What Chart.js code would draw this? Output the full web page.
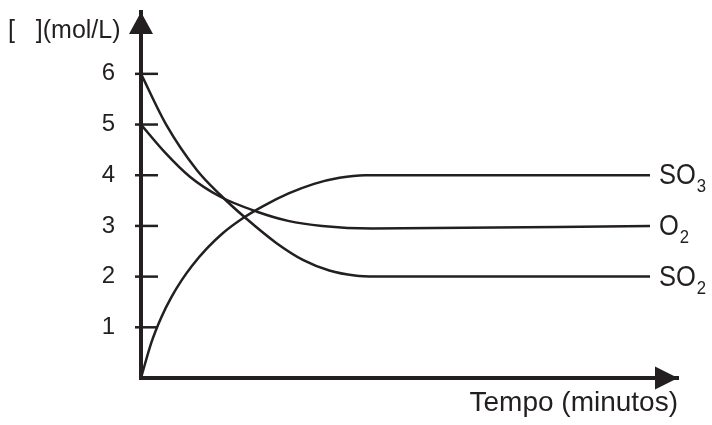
<!DOCTYPE html>
<html>
<head>
<meta charset="utf-8">
<script src="https://cdn.jsdelivr.net/npm/chart.js@4.4.0/dist/chart.umd.min.js"></script>
<style>
  html, body { margin: 0; padding: 0; background: #fff; }
  #wrap { width: 712px; height: 425px; }
</style>
</head>
<body>
<div id="wrap"><canvas id="chart" width="712" height="425"></canvas></div>
<script>
const INK = '#231f20';
const FONT = "'Liberation Sans', Arial, Helvetica, sans-serif";

// time runs 0..10 up to the end of the curves, concentrations in mol/L
const so3Time = [0, 0.2, 0.4, 0.6, 0.8, 1.0, 1.3, 1.6, 2.0, 2.4, 2.9, 3.4, 3.9, 4.4, 10];
const so3Conc = [0, 0.69, 1.2, 1.6, 1.93, 2.21, 2.56, 2.85, 3.15, 3.39, 3.64, 3.83, 3.95, 4.0, 4.0];

const o2Time = [0, 0.47, 0.96, 1.55, 2.28, 2.89, 3.56, 4.54, 10];
const o2Conc = [5, 4.45, 3.97, 3.58, 3.28, 3.10, 3.0, 2.95, 3.0];

const so2Time = [0, 0.5, 1.1, 1.55, 2.05, 2.65, 3.2, 3.7, 4.2, 4.6, 10];
const so2Conc = [6, 4.99, 4.10, 3.62, 3.16, 2.67, 2.32, 2.12, 2.02, 2.0, 2.0];

const seriesFormula = ['SO', 'O', 'SO'];
const seriesSubscript = ['3', '2', '2'];
const yTickValues = [1, 2, 3, 4, 5, 6];
const yUnitLabel = '[   ](mol/L)';
const xTitle = 'Tempo (minutos)';

const toPoints = (ts, vs) => ts.map((t, i) => ({ x: t, y: vs[i] }));

const lineStyle = {
  borderColor: INK,
  borderWidth: 2.5,
  pointRadius: 0,
  fill: false,
  cubicInterpolationMode: 'monotone',
};

// tick marks across the y axis, arrow heads, unit label and species names
const axisDecor = {
  id: 'axisDecor',
  afterDraw(chart) {
    const { ctx, chartArea: a, scales: { y } } = chart;
    ctx.save();
    ctx.fillStyle = INK;
    ctx.strokeStyle = INK;

    ctx.lineWidth = 2.5;
    yTickValues.forEach((v) => {
      const py = y.getPixelForValue(v);
      ctx.beginPath();
      ctx.moveTo(a.left - 6, py);
      ctx.lineTo(a.left + 17, py);
      ctx.stroke();
    });

    ctx.beginPath();
    ctx.moveTo(a.left, a.top);
    ctx.lineTo(a.left - 12, a.top + 22);
    ctx.lineTo(a.left + 12, a.top + 22);
    ctx.closePath();
    ctx.fill();

    ctx.beginPath();
    ctx.moveTo(a.right, a.bottom);
    ctx.lineTo(a.right - 23, a.bottom - 11.5);
    ctx.lineTo(a.right - 23, a.bottom + 11.5);
    ctx.closePath();
    ctx.fill();

    ctx.textBaseline = 'middle';
    ctx.textAlign = 'left';
    ctx.font = '25px ' + FONT;
    ctx.fillText(yUnitLabel, 8, 31);

    chart.data.datasets.forEach((ds, i) => {
      const pts = chart.getDatasetMeta(i).data;
      const end = pts[pts.length - 1];
      ctx.save();
      ctx.translate(end.x + 9, end.y);
      ctx.scale(0.88, 1);
      ctx.font = '29px ' + FONT;
      ctx.fillText(seriesFormula[i], 0, 1);
      const w = ctx.measureText(seriesFormula[i]).width;
      ctx.font = '19px ' + FONT;
      ctx.fillText(seriesSubscript[i], w + 1, 12);
      ctx.restore();
    });
    ctx.restore();
  },
};

new Chart(document.getElementById('chart'), {
  type: 'line',
  data: {
    datasets: [
      { label: 'SO3', data: toPoints(so3Time, so3Conc), ...lineStyle },
      { label: 'O2', data: toPoints(o2Time, o2Conc), ...lineStyle },
      { label: 'SO2', data: toPoints(so2Time, so2Conc), ...lineStyle },
    ],
  },
  plugins: [axisDecor],
  options: {
    responsive: false,
    animation: false,
    layout: { padding: { left: 0, top: 12, right: 34, bottom: 0 } },
    plugins: { legend: false, tooltip: false },
    scales: {
      x: {
        type: 'linear',
        min: 0,
        max: 10.55,
        grid: { display: false, drawTicks: false },
        border: { display: true, width: 4, color: INK },
        ticks: { display: false },
        title: {
          display: true,
          text: xTitle,
          align: 'end',
          color: INK,
          font: { family: FONT, size: 28 },
          padding: { top: 0, bottom: 5 },
        },
        afterFit(scale) {
          scale.height = 47;
          scale.paddingLeft = 0;
          scale.paddingRight = 0;
        },
      },
      y: {
        type: 'linear',
        min: 0,
        max: 7.22,
        grid: { display: false, drawTicks: false },
        border: { display: true, width: 4, color: INK },
        ticks: {
          padding: 26,
          color: INK,
          font: { family: FONT, size: 24 },
        },
        afterBuildTicks(scale) {
          scale.ticks = yTickValues.map((v) => ({ value: v }));
        },
        afterFit(scale) {
          scale.width = 141;
          scale.paddingTop = 0;
          scale.paddingBottom = 0;
        },
      },
    },
  },
});
</script>
</body>
</html>
